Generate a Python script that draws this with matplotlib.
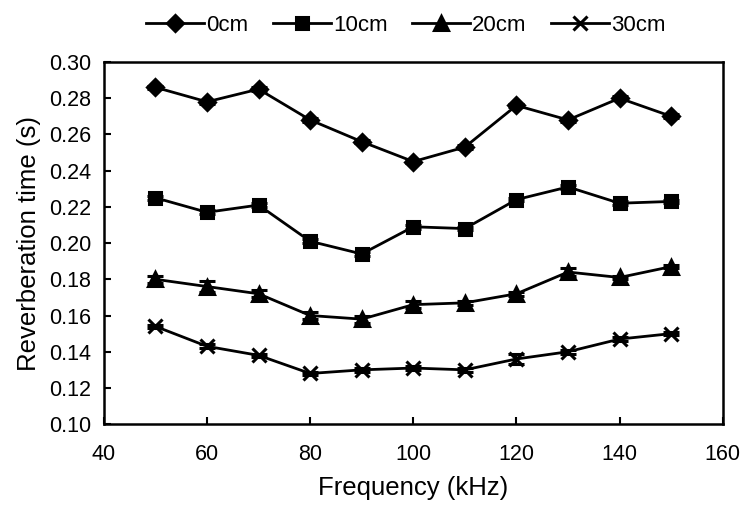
import numpy as np
from matplotlib import pyplot as plt
from matplotlib.lines import Line2D

plt.rcParams['font.family'] = ['Liberation Sans', 'DejaVu Sans']

freq = [50, 60, 70, 80, 90, 100, 110, 120, 130, 140, 150]

rt_0cm = [0.286, 0.278, 0.285, 0.268, 0.256, 0.245, 0.253, 0.276, 0.268, 0.280, 0.270]
rt_10cm = [0.225, 0.217, 0.221, 0.201, 0.194, 0.209, 0.208, 0.224, 0.231, 0.222, 0.223]
rt_20cm = [0.180, 0.176, 0.172, 0.160, 0.158, 0.166, 0.167, 0.172, 0.184, 0.181, 0.187]
rt_30cm = [0.154, 0.143, 0.138, 0.128, 0.130, 0.131, 0.130, 0.136, 0.140, 0.147, 0.150]

err_0cm = [0.001, 0.001, 0.001, 0.001, 0.001, 0.001, 0.001, 0.001, 0.001, 0.001, 0.001]
err_10cm = [0.001, 0.001, 0.001, 0.001, 0.001, 0.001, 0.001, 0.001, 0.001, 0.001, 0.001]
err_20cm = [0.002, 0.003, 0.002, 0.002, 0.002, 0.002, 0.001, 0.001, 0.002, 0.001, 0.001]
err_30cm = [0.001, 0.001, 0.001, 0.001, 0.001, 0.001, 0.001, 0.003, 0.001, 0.001, 0.001]

labels = ["0cm", "10cm", "20cm", "30cm"]

fig = plt.figure(figsize=(7.42, 5.08), dpi=100)
ax = fig.add_axes([0.140, 0.165, 0.834, 0.713])

series = [
    (rt_0cm, err_0cm, 'D', 8.5, labels[0]),
    (rt_10cm, err_10cm, 's', 9, labels[1]),
    (rt_20cm, err_20cm, '^', 9.5, labels[2]),
    (rt_30cm, err_30cm, 'x', 10, labels[3]),
]
handles = []
for vals, err, mk, ms, lab in series:
    ax.errorbar(freq, vals, yerr=err, color='black', marker=mk, markersize=ms,
                markeredgewidth=2.2, linewidth=2, elinewidth=1.5, capsize=6,
                capthick=2)
    handles.append(Line2D([], [], color='black', marker=mk, markersize=ms,
                          markeredgewidth=2.2, linewidth=2, label=lab))

ax.set_xlim(40, 160)
ax.set_ylim(0.10, 0.30)
ax.set_xticks(np.arange(40, 161, 20))
ax.set_yticks(np.arange(0.10, 0.301, 0.02))
ax.set_yticklabels(["%.2f" % v for v in np.arange(0.10, 0.301, 0.02)])
ax.tick_params(direction='in', length=5, width=1.5, labelsize=15.5,
               top=False, right=False)
ax.tick_params(axis='x', pad=14)
ax.tick_params(axis='y', pad=9)
for sp in ax.spines.values():
    sp.set_linewidth(1.8)

ax.set_xlabel("Frequency (kHz)", fontsize=18.5, labelpad=8)
ax.set_ylabel("Reverberation time (s)", fontsize=18.5, labelpad=6)

fig.legend(handles=handles, loc='upper center', bbox_to_anchor=(0.547, 1.01), ncol=4,
           frameon=False, fontsize=16, handlelength=2.6, columnspacing=1.1,
           handletextpad=0.1)

plt.savefig("out.png", dpi=100)
